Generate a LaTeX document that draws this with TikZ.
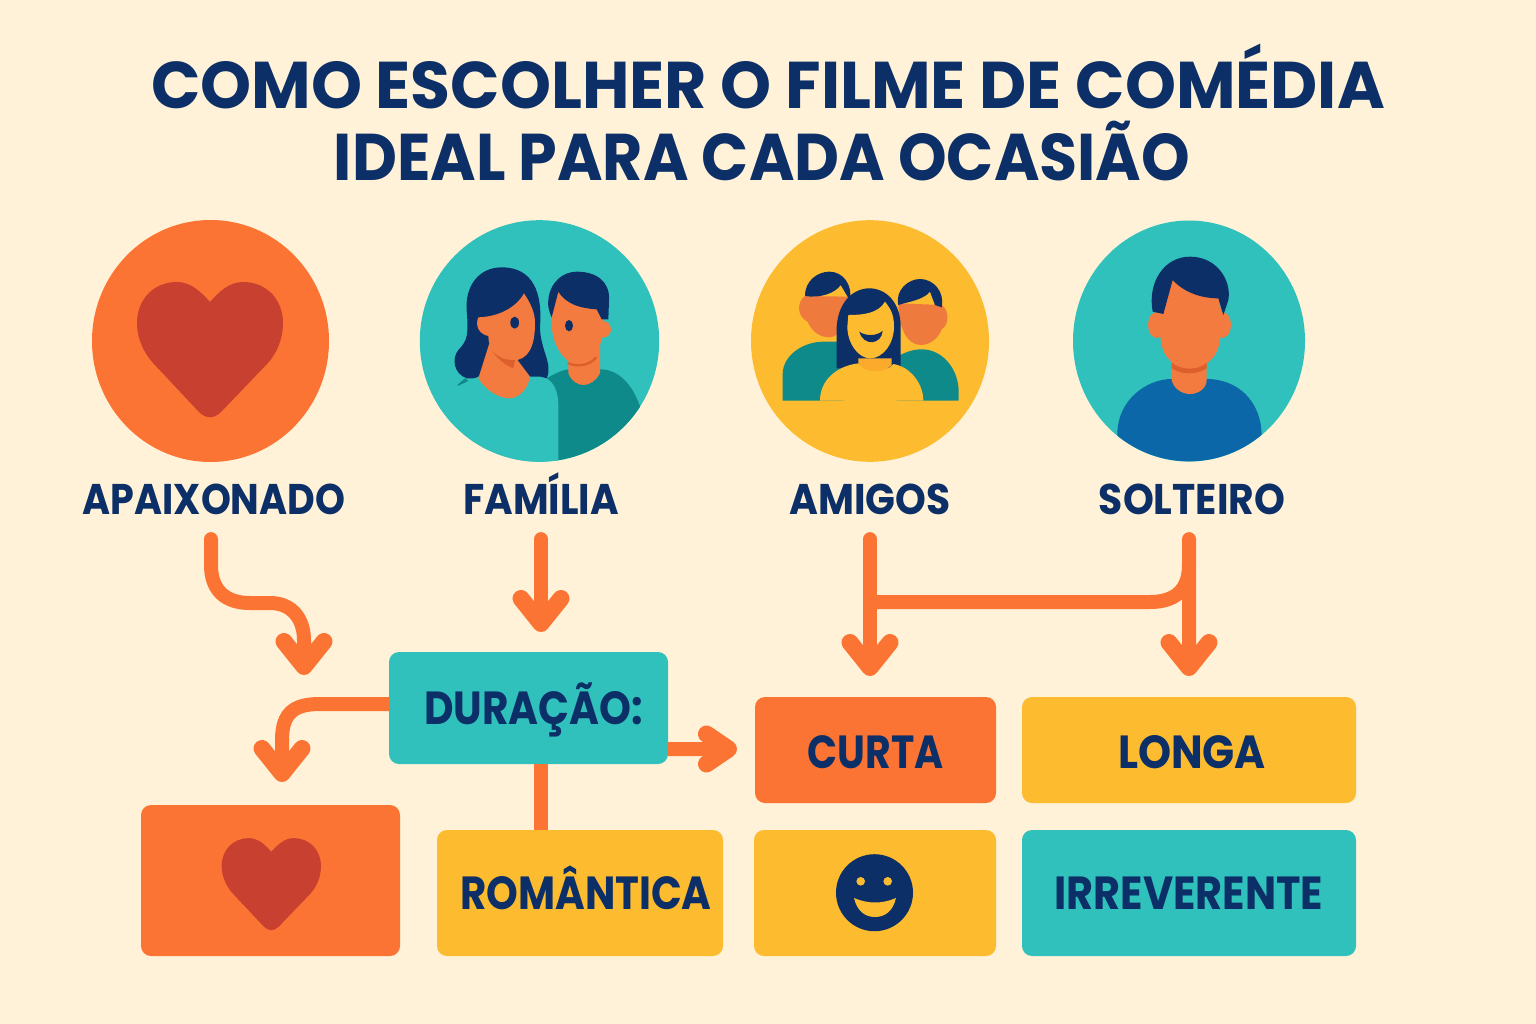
\documentclass[tikz,border=0pt]{standalone}
\usepackage{fontspec}
\usepackage{graphicx}
\setmainfont{Poppins}
\usetikzlibrary{arrows.meta, shapes.geometric}
\definecolor{paper}{HTML}{FFF2D8}
\definecolor{coral}{HTML}{FB7433}
\definecolor{lagoon}{HTML}{31C1BC}
\definecolor{sun}{HTML}{FDBB30}
\definecolor{navy}{HTML}{0B2F66}
\definecolor{berry}{HTML}{C8402F}
\definecolor{deepteal}{HTML}{0E8A8A}
\definecolor{shirtblue}{HTML}{0B67A8}
\definecolor{skin}{HTML}{F47B3F}
\definecolor{skindark}{HTML}{DD5F2C}
\definecolor{skinsoft}{HTML}{EE7A3E}
\definecolor{sundark}{HTML}{FBAA2C}
\newcommand{\slim}[2]{\scalebox{#1}[1]{#2}}
\tikzstyle{titleline} = [text=navy, font=\fontsize{94}{94}\selectfont\bfseries, text height=23mm, text depth=0pt, inner sep=0pt]
\tikzstyle{disc} = [ellipse, inner sep=0pt]
\tikzstyle{who} = [text=navy, font=\fontsize{61}{61}\selectfont\bfseries, text height=15mm, text depth=0pt, inner xsep=0pt, inner ysep=12.5mm]
\tikzstyle{box} = [rectangle, rounded corners=5mm, text=navy, font=\fontsize{66}{66}\selectfont\bfseries, text height=16mm, text depth=0pt, inner sep=0pt]
\tikzstyle{arrow} = [line width=7mm, draw=coral, line cap=round, line join=round, -{Straight Barb[round,length=12.5mm,width=20mm,line width=8.5mm]}]
\tikzstyle{link} = [line width=7mm, draw=coral]
\tikzset{heart/.pic={
	\fill [berry] (-1,-43) .. controls (-10,-53) and (-20,-63) .. (-34,-63) .. controls (-58,-63) and (-74,-45) .. (-74,-22) .. controls (-74,-5) and (-66,9) .. (-58,18) -- (-12,67) .. controls (-5,74) and (3,74) .. (10,67) -- (57,18) .. controls (65,9) and (72,-5) .. (72,-22) .. controls (72,-45) and (56,-63) .. (32,-63) .. controls (18,-63) and (8,-53) .. (-1,-43) -- cycle;
}}

\begin{document}
\begin{tikzpicture}[x=0.5mm,y=-0.5mm]
	\useasboundingbox (0,0) rectangle (1536,1024);
	\fill [paper] (0,0) rectangle (1536,1024);

	\node (title1) [titleline] at (768,86) {\slim{0.982}{COMO ESCOLHER O FILME DE COMÉDIA}};
	\node (title2) [titleline] at (762,157) {\slim{0.936}{IDEAL PARA CADA OCASIÃO}};

	\node (discapaixonado) [disc, fill=coral, minimum width=118.5mm, minimum height=121mm] at (210.5,341) {};
	\node (discfamilia) [disc, fill=lagoon, minimum width=119.7mm, minimum height=120.8mm] at (539.5,341) {};
	\node (discamigos) [disc, fill=sun, minimum width=119mm, minimum height=120.8mm] at (870,341) {};
	\node (discsolteiro) [disc, fill=lagoon, minimum width=116mm, minimum height=120.5mm] at (1189,341) {};

	\pic at (211,345) {heart};

	% familia
	\begin{scope}[shift={(400,210)},x=0.16667mm,y=-0.16667mm]
		\clip (419,393) ellipse [x radius=359, y radius=362];
		\fill [deepteal] (440,505) .. controls (465,490) and (490,478) .. (510,478) -- (600,478) .. controls (660,478) and (700,530) .. (720,590) -- (720,780) -- (470,780) -- (470,560) -- cycle;
		\fill [skin] (505,420) -- (505,490) .. controls (515,515) and (535,525) .. (550,525) .. controls (570,525) and (590,510) .. (600,490) -- (600,400) -- cycle;
		\fill [skin] (608,358) circle [radius=25];
		\fill [skin] (475,245) .. controls (455,280) and (455,320) .. (455,340) .. controls (455,400) and (490,462) .. (535,462) .. controls (570,462) and (600,430) .. (605,380) -- (615,300) -- (560,240) -- cycle;
		\draw [skindark, line width=1.2mm, line cap=round] (505,460) .. controls (535,472) and (570,465) .. (588,443);
		\fill [navy] (445,270) .. controls (450,215) and (490,185) .. (530,185) .. controls (590,185) and (630,215) .. (627,270) -- (625,328) -- (605,328) -- (590,298) .. controls (545,295) and (500,285) .. (475,245) -- (455,322) .. controls (445,300) and (443,285) .. (445,270) -- cycle;
		\fill [navy] (507,347) ellipse [x radius=12, y radius=17];
		\fill [navy] (305,172) .. controls (235,172) and (195,230) .. (200,300) .. controls (205,370) and (205,390) .. (175,420) .. controls (155,445) and (160,490) .. (200,505) -- (440,505) .. controls (460,460) and (420,420) .. (420,350) .. controls (428,250) and (400,172) .. (305,172) -- cycle;
		\fill [deepteal] (172,525) -- (195,505) -- (205,512) -- (180,533) -- cycle;
		\fill [lagoon] (235,500) -- (420,500) .. controls (460,505) and (475,540) .. (475,590) -- (475,780) -- (60,780) -- (120,560) -- (180,525) -- cycle;
		\fill [skin] (268,400) -- (235,505) .. controls (260,545) and (300,565) .. (330,565) .. controls (365,562) and (385,530) .. (390,500) -- (345,440) -- cycle;
		\fill [skin] (235,322) .. controls (300,320) and (350,290) .. (372,250) .. controls (395,285) and (405,310) .. (405,340) .. controls (405,410) and (385,452) .. (335,452) .. controls (295,452) and (265,420) .. (265,378) .. controls (235,372) and (225,345) .. (235,322) -- cycle;
		\fill [skindark] (275,420) .. controls (290,445) and (315,465) .. (340,475) -- (345,450) .. controls (315,452) and (290,440) .. (275,420) -- cycle;
		\fill [navy] (344,338) ellipse [x radius=13, y radius=18];
	\end{scope}

	% amigos
	\begin{scope}[shift={(730,210)},x=0.16667mm,y=-0.16667mm]
		\fill [deepteal] (158,572) -- (158,490) .. controls (160,435) and (220,395) .. (280,395) -- (340,395) -- (340,572) -- cycle;
		\fill [skinsoft] (225,258) .. controls (200,275) and (200,320) .. (233,335) .. controls (245,365) and (270,382) .. (298,382) .. controls (335,382) and (360,320) .. (358,260) -- cycle;
		\fill [navy] (225,258) .. controls (225,210) and (265,185) .. (298,185) .. controls (340,185) and (368,225) .. (360,272) -- (332,225) .. controls (315,250) and (270,265) .. (225,258) -- cycle;
		\fill [deepteal] (500,440) .. controls (530,425) and (550,418) .. (575,418) .. controls (640,418) and (686,480) .. (686,545) -- (686,572) -- (500,572) -- cycle;
		\fill [skinsoft] (505,280) .. controls (505,350) and (530,405) .. (572,405) .. controls (600,405) and (625,385) .. (635,358) .. controls (658,345) and (658,300) .. (635,285) -- cycle;
		\fill [navy] (505,285) .. controls (495,240) and (535,207) .. (570,207) .. controls (610,207) and (645,245) .. (635,292) -- (615,285) -- (600,245) .. controls (580,270) and (535,275) .. (505,285) -- cycle;
		\fill [navy] (320,475) -- (320,350) .. controls (325,275) and (370,235) .. (418,235) .. controls (470,235) and (512,280) .. (512,350) -- (512,475) -- cycle;
		\fill [sundark] (385,445) -- (485,445) -- (485,465) .. controls (470,480) and (450,488) .. (435,488) .. controls (415,488) and (395,478) .. (385,460) -- cycle;
		\fill [sun] (355,315) .. controls (400,315) and (445,310) .. (465,275) .. controls (480,295) and (492,310) .. (492,350) .. controls (492,400) and (460,445) .. (420,445) .. controls (385,445) and (352,400) .. (352,350) -- cycle;
		\fill [navy] (388,365) .. controls (405,378) and (440,380) .. (458,362) .. controls (455,405) and (400,410) .. (388,365) -- cycle;
		\fill [sun] (270,572) .. controls (270,510) and (320,468) .. (385,460) .. controls (405,492) and (465,492) .. (490,462) .. controls (540,470) and (580,520) .. (580,572) -- cycle;
	\end{scope}

	% solteiro
	\begin{scope}[shift={(1060,210)},x=0.16667mm,y=-0.16667mm]
		\clip (387,393) ellipse [x radius=348, y radius=361];
		\fill [shirtblue] (172,780) -- (172,672) .. controls (172,570) and (260,507) .. (335,507) -- (440,507) .. controls (530,507) and (605,570) .. (605,680) -- (605,780) -- cycle;
		\fill [skin] (335,430) -- (335,510) .. controls (340,535) and (365,552) .. (390,552) .. controls (415,552) and (440,535) .. (440,510) -- (440,430) -- cycle;
		\fill [skin] (290,345) ellipse [x radius=26, y radius=39];
		\fill [skin] (487,345) ellipse [x radius=26, y radius=39];
		\fill [skin] (338,205) .. controls (300,290) and (298,340) .. (302,390) .. controls (310,450) and (350,475) .. (390,475) .. controls (430,475) and (472,450) .. (480,390) .. controls (485,340) and (485,290) .. (475,250) -- cycle;
		\fill [skindark] (335,458) .. controls (365,482) and (415,482) .. (440,458) -- (440,475) .. controls (410,495) and (365,495) .. (335,475) -- cycle;
		\fill [navy] (278,305) .. controls (262,220) and (310,140) .. (390,140) .. controls (470,140) and (515,210) .. (505,270) -- (490,315) -- (475,265) .. controls (420,265) and (370,245) .. (338,210) -- (310,312) -- cycle;
	\end{scope}

	\node (apaixonado) [who] at (214,499) {\slim{0.888}{APAIXONADO}};
	\node (familia) [who] at (541,499) {\slim{0.906}{FAMÍLIA}};
	\node (amigos) [who] at (870,499) {\slim{0.914}{AMIGOS}};
	\node (solteiro) [who] at (1192,499) {\slim{0.916}{SOLTEIRO}};

	\node (duracao) [box, fill=lagoon, minimum width=139.5mm, minimum height=56mm] at (528.5,708) {\hspace*{5mm}\slim{0.875}{DURAÇÃO:}};
	\node (curta) [box, fill=coral, minimum width=120.5mm, minimum height=53mm, text height=18mm] at (875.5,750) {\slim{0.85}{CURTA}};
	\node (longa) [box, fill=sun, minimum width=167mm, minimum height=53mm, text height=18mm] at (1189,750) {\hspace*{3mm}\slim{0.907}{LONGA}};
	\node (coracao) [box, fill=coral, minimum width=129.5mm, minimum height=75.5mm] at (270.5,880.5) {};
	\node (romantica) [box, fill=sun, minimum width=143mm, minimum height=63mm] at (580,893) {\hspace*{6mm}\slim{0.87}{ROMÂNTICA}};
	\node (riso) [box, fill=sun, minimum width=121mm, minimum height=63mm] at (875,893) {};
	\node (irreverente) [box, fill=lagoon, minimum width=167mm, minimum height=63mm] at (1189,893) {\slim{0.893}{IRREVERENTE}};

	\pic [scale=0.68] at (272,881) {heart};

	\node (sorriso) [circle, fill=navy, minimum size=38.5mm, inner sep=0pt] at (874.5,892.7) {};
	\fill [sun] (860.7,881.3) circle [radius=4.3];
	\fill [sun] (887.7,881.3) circle [radius=4.3];
	\fill [sun] (854,898) .. controls (868,904) and (882,904) .. (896,898) .. controls (893,911) and (885,917) .. (875,917) .. controls (865,917) and (857,911) .. (854,898) -- cycle;

	\coordinate (tipapaixonado) at (304,675);
	\coordinate (tipfamilia) at (541,632);
	\coordinate (tipamigos) at (870,676);
	\coordinate (tipsolteiro) at (1189,676);
	\coordinate (tipcoracao) at (282,782);
	\coordinate (tipcurta) at (737,749);
	\coordinate (ramoamigos) at (870,602);
	\coordinate (ramosolteiro) at (1189,565);

	\draw [arrow] ([xshift=-1.5mm]apaixonado.south) -- (211,565) .. controls (211,590) and (225,603) .. (250,603) -- (270,603) .. controls (293,603) and (304,620) .. (304,640) -- (tipapaixonado);
	\draw [arrow] (familia.south) -- (tipfamilia);
	\draw [arrow] (amigos.south) -- (tipamigos);
	\draw [arrow] ([xshift=-1.5mm]solteiro.south) -- (tipsolteiro);
	\draw [link] (ramoamigos) -- (1150,602) .. controls (1175,602) and (1189,590) .. (ramosolteiro);
	\draw [arrow, line cap=butt] ([yshift=2mm]duracao.west) -- (320,704) .. controls (295,704) and (282,712) .. (282,740) -- (tipcoracao);
	\draw [arrow, line cap=butt, -{Straight Barb[round,length=11mm,width=15mm,line width=8.5mm]}] ([yshift=-20.5mm]duracao.east) -- (tipcurta);
	\draw [link] (duracao.south -| familia.south) -- (romantica.north -| familia.south);
\end{tikzpicture}
\end{document}
